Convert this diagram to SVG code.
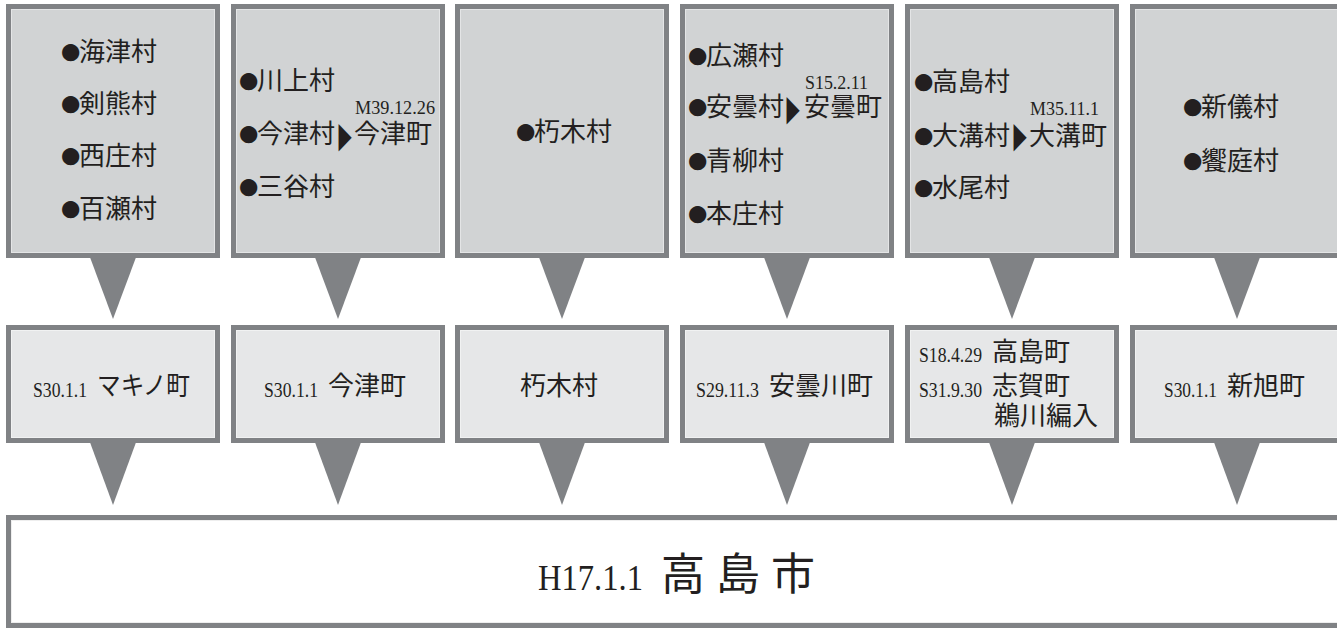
<svg xmlns="http://www.w3.org/2000/svg" width="1337" height="630" viewBox="0 0 1337 630">
<defs>
<style>
.bd{fill:#808285}
.ft{fill:#d1d3d4;stroke:#e4e5e6;stroke-width:1}
.fm{fill:#e6e7e8;stroke:#f1f2f2;stroke-width:1}
.fb{fill:#ffffff;stroke:#eeeeee;stroke-width:1}
.tri{fill:#808285}
text{font-family:"Liberation Serif","Noto Sans CJK JP",serif;fill:#231f20}
.n{font-size:26px}
.b{font-size:40px}
.d{font-size:18px}
.dm{font-size:22px}
.ar{font-family:"DejaVu Sans",sans-serif;font-size:22px}
</style>
</defs>
<rect width="1337" height="630" fill="#ffffff"/>

<!-- Connectors -->
<g id="connectors">
<polygon class="tri" points="89.5,256 136.5,256 113,319"/>
<polygon class="tri" points="314.5,256 361.5,256 338,319"/>
<polygon class="tri" points="538.5,256 585.5,256 562,319"/>
<polygon class="tri" points="763.5,256 810.5,256 787,319"/>
<polygon class="tri" points="988.5,256 1035.5,256 1012,319"/>
<polygon class="tri" points="1213.5,256 1260.5,256 1237,319"/>
<polygon class="tri" points="89.5,441 136.5,441 113,505"/>
<polygon class="tri" points="314.5,441 361.5,441 338,505"/>
<polygon class="tri" points="538.5,441 585.5,441 562,505"/>
<polygon class="tri" points="763.5,441 810.5,441 787,505"/>
<polygon class="tri" points="988.5,441 1035.5,441 1012,505"/>
<polygon class="tri" points="1213.5,441 1260.5,441 1237,505"/>
</g>

<!-- Top row -->
<g id="top1">
<rect class="bd" x="6" y="4" width="214" height="254"/>
<rect class="ft" x="11.5" y="9.5" width="203" height="243"/>
<text class="n" x="58.5" y="61"><tspan class="b" dy="3">●</tspan><tspan x="79" dy="-3">海津村</tspan></text>
<text class="n" x="58.5" y="113"><tspan class="b" dy="3">●</tspan><tspan x="79" dy="-3">剣熊村</tspan></text>
<text class="n" x="58.5" y="165"><tspan class="b" dy="3">●</tspan><tspan x="79" dy="-3">西庄村</tspan></text>
<text class="n" x="58.5" y="218"><tspan class="b" dy="3">●</tspan><tspan x="79" dy="-3">百瀬村</tspan></text>
</g>
<g id="top2">
<rect class="bd" x="231" y="4" width="214" height="254"/>
<rect class="ft" x="236.5" y="9.5" width="203" height="243"/>
<text class="n" x="236.5" y="90"><tspan class="b" dy="3">●</tspan><tspan x="257" dy="-3">川上村</tspan></text>
<text class="d" x="355" y="114" textLength="80" lengthAdjust="spacingAndGlyphs">M39.12.26</text>
<text class="n" x="236.5" y="143"><tspan class="b" dy="3">●</tspan><tspan x="257" dy="-3">今津村</tspan></text>
<text class="ar" transform="translate(338.5,147) scale(0.78,1.62)">▶</text>
<text class="n" x="354" y="143">今津町</text>
<text class="n" x="236.5" y="196"><tspan class="b" dy="3">●</tspan><tspan x="257" dy="-3">三谷村</tspan></text>
</g>
<g id="top3">
<rect class="bd" x="455" y="4" width="214" height="254"/>
<rect class="ft" x="460.5" y="9.5" width="203" height="243"/>
<text class="n" x="513.5" y="141"><tspan class="b" dy="3">●</tspan><tspan x="534" dy="-3">朽木村</tspan></text>
</g>
<g id="top4">
<rect class="bd" x="680" y="4" width="214" height="254"/>
<rect class="ft" x="685.5" y="9.5" width="203" height="243"/>
<text class="n" x="685.5" y="65"><tspan class="b" dy="3">●</tspan><tspan x="706" dy="-3">広瀬村</tspan></text>
<text class="d" x="805" y="89" textLength="63" lengthAdjust="spacingAndGlyphs">S15.2.11</text>
<text class="n" x="685.5" y="116"><tspan class="b" dy="3">●</tspan><tspan x="706" dy="-3">安曇村</tspan></text>
<text class="ar" transform="translate(786.5,120) scale(0.78,1.62)">▶</text>
<text class="n" x="804" y="116">安曇町</text>
<text class="n" x="685.5" y="170"><tspan class="b" dy="3">●</tspan><tspan x="706" dy="-3">青柳村</tspan></text>
<text class="n" x="685.5" y="223"><tspan class="b" dy="3">●</tspan><tspan x="706" dy="-3">本庄村</tspan></text>
</g>
<g id="top5">
<rect class="bd" x="905" y="4" width="214" height="254"/>
<rect class="ft" x="910.5" y="9.5" width="203" height="243"/>
<text class="n" x="911.5" y="91"><tspan class="b" dy="3">●</tspan><tspan x="932" dy="-3">高島村</tspan></text>
<text class="d" x="1030" y="115" textLength="69" lengthAdjust="spacingAndGlyphs">M35.11.1</text>
<text class="n" x="911.5" y="145"><tspan class="b" dy="3">●</tspan><tspan x="932" dy="-3">大溝村</tspan></text>
<text class="ar" transform="translate(1013.5,147) scale(0.78,1.62)">▶</text>
<text class="n" x="1029" y="145">大溝町</text>
<text class="n" x="911.5" y="197"><tspan class="b" dy="3">●</tspan><tspan x="932" dy="-3">水尾村</tspan></text>
</g>
<g id="top6">
<rect class="bd" x="1130" y="4" width="214" height="254"/>
<rect class="ft" x="1135.5" y="9.5" width="203" height="243"/>
<text class="n" x="1180.5" y="116"><tspan class="b" dy="3">●</tspan><tspan x="1201" dy="-3">新儀村</tspan></text>
<text class="n" x="1180.5" y="170"><tspan class="b" dy="3">●</tspan><tspan x="1201" dy="-3">饗庭村</tspan></text>
</g>

<!-- Middle row -->
<g id="mid1">
<rect class="bd" x="6" y="325" width="214" height="118"/>
<rect class="fm" x="11.5" y="330.5" width="203" height="107"/>
<text class="dm" x="33" y="397" textLength="54" lengthAdjust="spacingAndGlyphs">S30.1.1</text>
<text class="n" x="97" y="395" textLength="93" lengthAdjust="spacingAndGlyphs">マキノ町</text>
</g>
<g id="mid2">
<rect class="bd" x="231" y="325" width="214" height="118"/>
<rect class="fm" x="236.5" y="330.5" width="203" height="107"/>
<text class="dm" x="264" y="397" textLength="54" lengthAdjust="spacingAndGlyphs">S30.1.1</text>
<text class="n" x="328" y="395">今津町</text>
</g>
<g id="mid3">
<rect class="bd" x="455" y="325" width="214" height="118"/>
<rect class="fm" x="460.5" y="330.5" width="203" height="107"/>
<text class="n" x="520" y="395">朽木村</text>
</g>
<g id="mid4">
<rect class="bd" x="680" y="325" width="214" height="118"/>
<rect class="fm" x="685.5" y="330.5" width="203" height="107"/>
<text class="dm" x="696" y="397" textLength="63" lengthAdjust="spacingAndGlyphs">S29.11.3</text>
<text class="n" x="769" y="395">安曇川町</text>
</g>
<g id="mid5">
<rect class="bd" x="905" y="325" width="214" height="118"/>
<rect class="fm" x="910.5" y="330.5" width="203" height="107"/>
<text class="dm" x="919" y="362" textLength="63" lengthAdjust="spacingAndGlyphs">S18.4.29</text>
<text class="n" x="992" y="361">高島町</text>
<text class="dm" x="919" y="397" textLength="63" lengthAdjust="spacingAndGlyphs">S31.9.30</text>
<text class="n" x="992" y="395">志賀町</text>
<text class="n" x="994" y="425">鵜川編入</text>
</g>
<g id="mid6">
<rect class="bd" x="1130" y="325" width="214" height="118"/>
<rect class="fm" x="1135.5" y="330.5" width="203" height="107"/>
<text class="dm" x="1164" y="397" textLength="53" lengthAdjust="spacingAndGlyphs">S30.1.1</text>
<text class="n" x="1227" y="395">新旭町</text>
</g>

<!-- Bottom -->
<g id="city">
<rect class="bd" x="6" y="515" width="1340" height="113"/>
<rect class="fb" x="11.5" y="520.5" width="1330" height="102"/>
<text x="538" y="590" font-size="36" textLength="105" lengthAdjust="spacingAndGlyphs">H17.1.1</text>
<text x="661" y="590" font-size="44">高</text>
<text x="716" y="590" font-size="44">島</text>
<text x="771" y="590" font-size="44">市</text>
</g>
</svg>
